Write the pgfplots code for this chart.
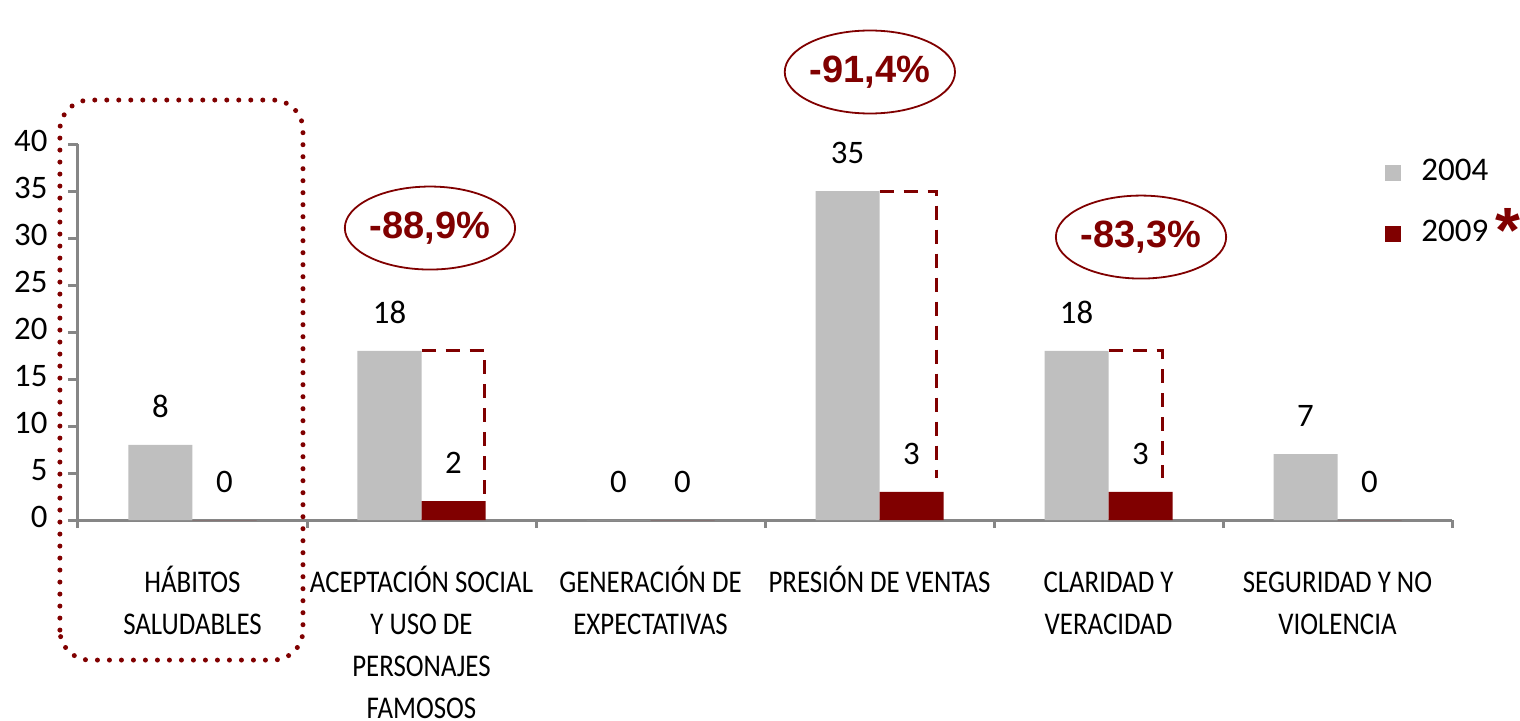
\documentclass[border=0pt]{standalone}
\usepackage{fontspec}
\setmainfont{Carlito}
\newfontfamily\narrowfont{Carlito}[FakeStretch=0.85]
\newfontfamily\arialfont{Liberation Sans}
\usepackage{pgfplots}
\pgfplotsset{compat=1.18}
\usetikzlibrary{shapes.geometric}
\definecolor{barGray}{RGB}{191,191,191}
\definecolor{darkRed}{RGB}{128,0,0}
\definecolor{axisGray}{RGB}{134,134,134}

\begin{document}
\begin{tikzpicture}
\begin{axis}[
    at={(0,0)}, anchor=south west,
    scale only axis,
    width=343.5pt, height=94pt,
    xmin=-0.5, xmax=5.5, ymin=0, ymax=40,
    ybar=0pt, bar width=16pt,
    clip=false,
    axis lines=left,
    axis line style={-, axisGray, line width=0.75pt},
    /pgf/number format/assume math mode=true,
    xtick={0,...,5},
    xticklabels={H\'ABITOS\\SALUDABLES, ACEPTACI\'ON SOCIAL\\Y USO DE\\PERSONAJES\\FAMOSOS, GENERACI\'ON DE\\EXPECTATIVAS, PRESI\'ON DE VENTAS, CLARIDAD Y\\VERACIDAD, SEGURIDAD Y NO\\VIOLENCIA},
    major x tick style={draw=none},
    minor xtick={-0.5,0.5,...,5.5},
    ytick={0,5,...,40},
    tick align=outside,
    major tick length=2.5pt, minor tick length=2pt,
    tick style={axisGray, line width=0.75pt},
    xticklabel style={font=\narrowfont\fontsize{7.9}{10.5}\selectfont, align=center, anchor=north, yshift=-4.8pt},
    typeset ticklabels with strut,
    yticklabel style={font=\fontsize{8.2}{9}\selectfont, xshift=-1.6pt},
    nodes near coords,
    every node near coord/.append style={font=\fontsize{8.2}{9}\selectfont, text=black, anchor=center, yshift=9.5pt},
    legend style={at={(rel axis cs:0.951,0.984)}, anchor=north west, draw=none, fill=none,
        font=\fontsize{8.25}{9}\selectfont, row sep=4.5pt, inner sep=0pt,
        /tikz/every odd column/.style={column sep=3pt}},
    legend image code/.code={\fill[#1] (0pt,-2pt) rectangle (4pt,2pt);},
]
\addplot[fill=barGray, draw=none] coordinates {(0,8) (1,18) (2,0) (3,35) (4,18) (5,7)};
\addplot[fill=darkRed, draw=none] coordinates {(0,0) (1,2) (2,0) (3,3) (4,3) (5,0)};
\legend{2004, 2009}

% highlight around the first category
\draw[darkRed, line width=1.25pt, line cap=round, dash pattern=on 0pt off 3pt, rounded corners=7.5pt]
    (axis cs:-0.579,-14.9) rectangle (axis cs:0.4825,44.68);

% dashed outlines from the 2004 level
\draw[darkRed, line width=0.75pt, dash pattern=on 3.5pt off 2.5pt] (axis cs:1,18) -| (axis cs:1.273,2);
\draw[darkRed, line width=0.75pt, dash pattern=on 3.5pt off 2.5pt] (axis cs:3,35) -| (axis cs:3.251,4.47);
\draw[darkRed, line width=0.75pt, dash pattern=on 3.5pt off 2.5pt] (axis cs:4,18) -| (axis cs:4.234,4.47);

% change percentages
\tikzset{pct/.style={ellipse, draw=darkRed, line width=0.45pt, minimum width=42pt, minimum height=20.75pt,
    inner sep=0pt, text=darkRed, font=\arialfont\bfseries\fontsize{9.5}{11}\selectfont}}
\node[pct] at (axis cs:1.037,31.06) {-88,9\%};
\node[pct] at (axis cs:2.958,47.66) {-91,4\%};
\node[pct] at (axis cs:4.142,30.1) {-83,3\%};

\node[text=darkRed, font=\arialfont\bfseries\fontsize{16}{16}\selectfont] at (rel axis cs:1.041,0.77) {*};
\end{axis}
\pgfresetboundingbox
\path[use as bounding box] (-19.5pt,-50pt) rectangle (360.5pt,130pt);
\end{tikzpicture}
\end{document}
